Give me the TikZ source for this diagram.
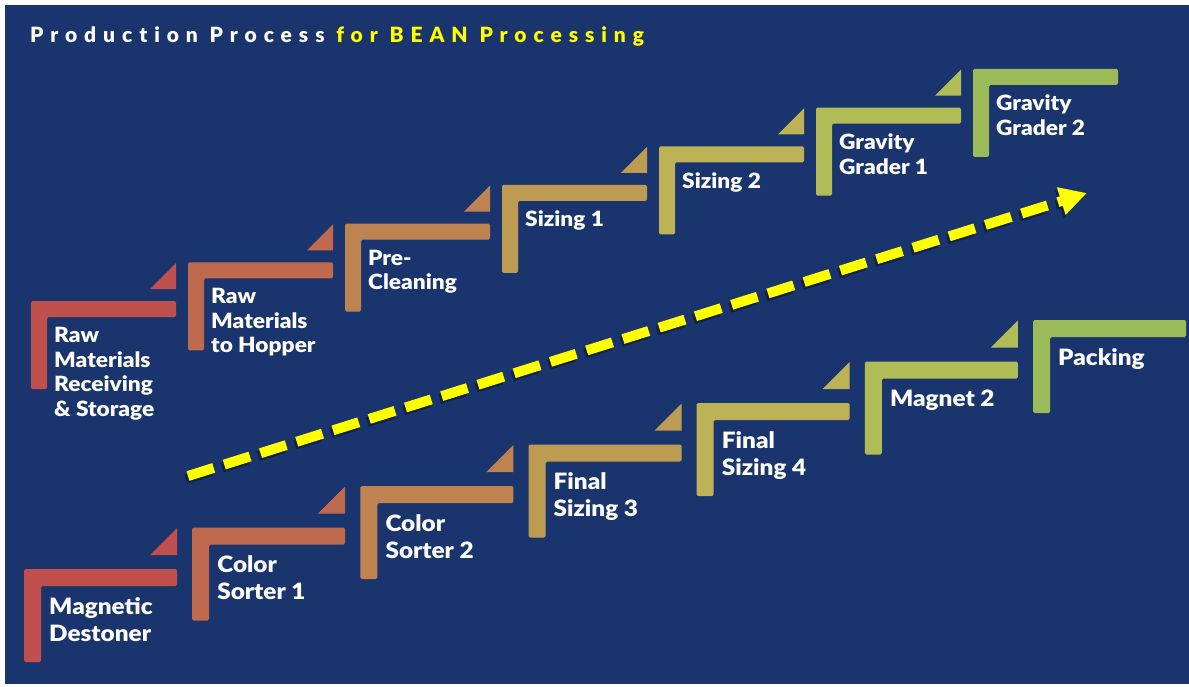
\documentclass[tikz,border=0pt]{standalone}
\usepackage{fontspec}
\usepackage{xcolor}
\setsansfont{Lato}[BoldFont={Lato Black}, BoldFeatures={FakeStretch=1.08}]
\newfontfamily\titlefont{Lato}[BoldFont={Lato Black}, LetterSpace=33, Ligatures=NoCommon]
\usetikzlibrary{arrows.meta}

\definecolor{bgblue}{HTML}{1A356E}
\definecolor{stair0}{HTML}{C0504D}
\definecolor{stair1}{HTML}{BF6A4F}
\definecolor{stair2}{HTML}{BE8351}
\definecolor{stair3}{HTML}{BE9B53}
\definecolor{stair4}{HTML}{BDB255}
\definecolor{stair5}{HTML}{B1BC57}
\definecolor{stair6}{HTML}{9BBB59}
\definecolor{beanyellow}{HTML}{FFFF00}

\begin{document}
\begin{tikzpicture}[x=1pt,y=-1pt,
    steplabel/.style={text=white, align=left, inner sep=0pt, anchor=north west,
      font=\sffamily\bfseries\fontsize{21}{24.5}\selectfont},
    lowlabel/.style={steplabel, font=\sffamily\bfseries\fontsize{22.5}{27}\selectfont},
    flowarrow/.style={line width=10pt, dash pattern=on 27pt off 11pt,
      -{Triangle[length=27pt,width=27pt]}}]
  \useasboundingbox (0,0) rectangle (1189,687);
  \fill[white] (0,0) rectangle (1189,687);
  \fill[bgblue] (5,5) rectangle (1189,684);

  \node[anchor=base west, inner sep=0pt, text=white,
    font=\titlefont\bfseries\fontsize{21}{25}\selectfont] (title) at (30,43)
    {Production Process \textcolor{beanyellow}{for BEAN Processing}};

  % upper row of stairs
  \foreach \i/\txt in {0/{Raw\\Materials\\Receiving\\\& Storage}, 1/{Raw\\Materials\\to Hopper},
      2/{Pre-\\Cleaning}, 3/{Sizing 1}, 4/{Sizing 2}, 5/{Gravity\\Grader 1}, 6/{Gravity\\Grader 2}} {
    \begin{scope}[shift={(31+157*\i,301-38.67*\i)}]
      \fill[stair\i, rounded corners=1.5pt] (0,0) -- (145,0) -- (145,16) -- (16,16) -- (16,88) -- (0,88) -- cycle;
      \ifnum\i<6
        \fill[stair\i] (119,-12) -- (145,-12) -- (145,-38) -- cycle;
      \fi
      \node[steplabel] (up\i) at (23,26) {\txt};
    \end{scope}
  }

  % lower row of stairs
  \foreach \i/\txt in {0/{Magnetic\\Destoner}, 1/{Color\\Sorter 1}, 2/{Color\\Sorter 2},
      3/{Final\\Sizing 3}, 4/{Final\\Sizing 4}, 5/{Magnet 2}, 6/{Packing}} {
    \begin{scope}[shift={(24+168.17*\i,569-41.5*\i)}]
      \fill[stair\i, rounded corners=1.5pt] (0,0) -- (153,0) -- (153,17) -- (17,17) -- (17,93) -- (0,93) -- cycle;
      \ifnum\i<6
        \fill[stair\i] (126,-14) -- (153,-14) -- (153,-41) -- cycle;
      \fi
      \node[lowlabel] (low\i) at (25,28) {\txt};
    \end{scope}
  }

  % dashed arrow
  \coordinate (arrowstart) at (188,476);
  \coordinate (arrowend) at (1087,193);
  \draw[flowarrow, black, opacity=0.35] ([shift={(-2,3)}]arrowstart) -- ([shift={(-2,3)}]arrowend);
  \draw[flowarrow, beanyellow] (arrowstart) -- (arrowend);
\end{tikzpicture}
\end{document}
